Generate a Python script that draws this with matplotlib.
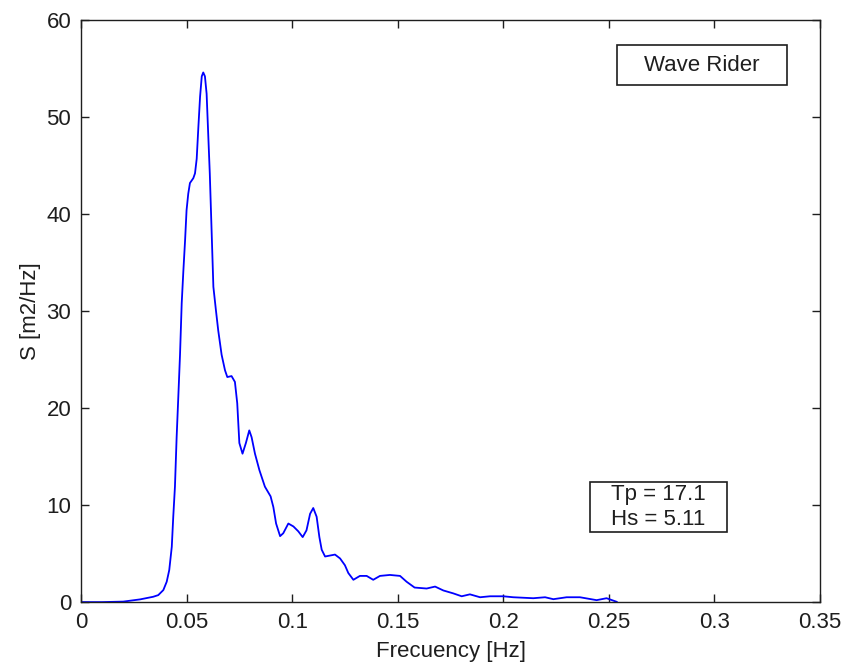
import matplotlib
matplotlib.use("Agg")
import matplotlib.pyplot as plt
from matplotlib.patches import Rectangle

# Wave Rider buoy spectrum: frequency [Hz] vs spectral density [m2/Hz]
freq = [0.0, 0.010, 0.020, 0.028, 0.0342, 0.0366, 0.039, 0.0406, 0.0418, 0.043,
        0.0437, 0.0445, 0.0453, 0.0461, 0.0469, 0.0477, 0.0485, 0.0493, 0.050,
        0.0508, 0.0516, 0.0532, 0.054, 0.0548, 0.0556, 0.0564, 0.0572, 0.0579,
        0.0587, 0.0595, 0.0603, 0.061, 0.0619, 0.0627, 0.0639, 0.065, 0.0666,
        0.0682, 0.0693, 0.0713, 0.0729, 0.074, 0.075, 0.0765, 0.0781, 0.0797,
        0.0808, 0.0824, 0.0845, 0.0871, 0.0898, 0.0911, 0.0924, 0.0943, 0.0958,
        0.0982, 0.1006, 0.1029, 0.105, 0.1068, 0.1085, 0.110, 0.1116, 0.1129,
        0.114, 0.1156, 0.1203, 0.1227, 0.125, 0.1266, 0.129, 0.1321, 0.1353,
        0.1384, 0.1416, 0.1463, 0.1511, 0.1542, 0.158, 0.1637, 0.1677, 0.1716,
        0.1763, 0.1803, 0.1842, 0.189, 0.1937, 0.200, 0.2047, 0.2142, 0.2198,
        0.2237, 0.230, 0.2363, 0.2442, 0.2489, 0.2537]
spec = [0.0, 0.0, 0.05, 0.28, 0.55, 0.72, 1.24, 2.1, 3.3, 5.7,
        8.8, 11.9, 17.0, 21.2, 25.5, 30.8, 34.2, 37.3, 40.4,
        42.1, 43.2, 43.7, 44.2, 45.7, 49.0, 52.1, 54.2, 54.6,
        54.2, 52.4, 48.0, 44.2, 38.0, 32.5, 30.1, 28.0, 25.5,
        23.9, 23.2, 23.3, 22.7, 20.5, 16.4, 15.3, 16.4, 17.7,
        17.0, 15.3, 13.6, 11.9, 10.9, 9.8, 8.1, 6.8, 7.1,
        8.1, 7.8, 7.3, 6.7, 7.4, 9.1, 9.7, 8.8, 6.7,
        5.4, 4.7, 4.9, 4.5, 3.8, 3.0, 2.3, 2.7, 2.7,
        2.3, 2.7, 2.8, 2.7, 2.1, 1.5, 1.4, 1.6, 1.2,
        0.9, 0.6, 0.8, 0.5, 0.6, 0.6, 0.5, 0.4, 0.5,
        0.3, 0.5, 0.5, 0.2, 0.4, 0.03]

Tp = 17.1
Hs = 5.11

plt.rcParams['font.family'] = ['Liberation Sans', 'DejaVu Sans']
ink = '#1e1e1e'

fig = plt.figure(figsize=(8.48, 6.69), dpi=100)
ax = fig.add_axes([0.0955, 0.100, 0.8715, 0.870])

ax.plot(freq, spec, color=(0, 0, 1), linewidth=1.3)

ax.set_xlim(0, 0.35)
ax.set_ylim(0, 60)
ax.set_xticks([0, 0.05, 0.1, 0.15, 0.2, 0.25, 0.3, 0.35])
ax.set_xticklabels(['0', '0.05', '0.1', '0.15', '0.2', '0.25', '0.3', '0.35'])
ax.set_yticks(range(0, 61, 10))
ax.tick_params(direction='in', length=6, width=1, top=True, right=True,
               labelsize=16, colors=ink, pad=7)
for s in ax.spines.values():
    s.set_linewidth(1)
    s.set_color(ink)

ax.set_xlabel('Frecuency [Hz]', fontsize=16, color=ink, labelpad=6)
ax.set_ylabel('S [m2/Hz]', fontsize=16, color=ink, labelpad=4)

# annotation boxes (axes fraction)
ax.add_patch(Rectangle((0.725, 0.889), 0.230, 0.0687, transform=ax.transAxes,
                       fc='white', ec=ink, lw=1.2, zorder=3))
ax.text(0.840, 0.9227, 'Wave Rider', transform=ax.transAxes, fontsize=16,
        color=ink, ha='center', va='center', zorder=4)

ax.add_patch(Rectangle((0.689, 0.120), 0.185, 0.0859, transform=ax.transAxes,
                       fc='white', ec=ink, lw=1.2, zorder=3))
ax.text(0.7815, 0.1635, 'Tp = %.1f\nHs = %.2f' % (Tp, Hs), transform=ax.transAxes,
        fontsize=16, color=ink, ha='center', va='center', linespacing=1.25,
        zorder=4)

fig.savefig('out.png', dpi=100)
